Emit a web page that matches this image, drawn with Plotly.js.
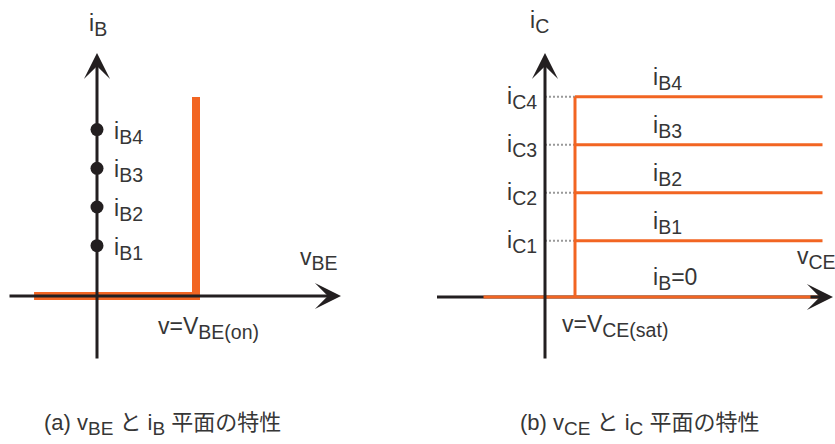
<!DOCTYPE html>
<html>
<head>
<meta charset="utf-8">
<script src="https://cdn.plot.ly/plotly-3.0.1.min.js"></script>
<style>
  html, body { margin: 0; padding: 0; background: #ffffff; }
  #chart { width: 835px; height: 444px; }
</style>
</head>
<body>
<div id="chart"></div>
<script>
// ---- (a) base current against base-emitter voltage ----
const VBE_ON = 0.7;                          // turn-on voltage V_BE(on)
const VBE_START = -0.445;                    // left end of the characteristic
const IB_TOP = 5.14;                         // top of the vertical rise
const IB_LEVELS = [1.3, 2.3, 3.3, 4.3];      // base-current steps i_B1..i_B4
const IB_SUBS = ['B1', 'B2', 'B3', 'B4'];

// ---- (b) collector current against collector-emitter voltage ----
const VCE_SAT = 0.2;                         // saturation voltage V_CE(sat)
const VCE_START = -0.41;
const VCE_END = 1.85;
const IC_LEVELS = [1.17, 2.17, 3.17, 4.17];  // collector currents i_C1..i_C4
const IC_SUBS = ['C1', 'C2', 'C3', 'C4'];

// ---- styling ----
const ORANGE = '#f26522';
const INK = '#231f20';
const TEXT = '#363636';
const FONT = "'Liberation Sans', 'Noto Sans CJK JP', sans-serif";
const W = 835, H = 444;
const LABEL_SIZE = 23, LABEL_SUB = 19.5;
const CAP_SIZE = 22, CAP_SUB = 19;

// subscript with its own size (larger than the default 70%)
const sub = (t, size) => '<sub><span style="font-size:' + size + 'px">' + t + '</span></sub>';
const lab = (main, s) => main + sub(s, LABEL_SUB);

// pixel frame of each panel (origin position and pixels per unit)
const PA = { left: 0, right: 345, ox: 97, oy: 296, sx: 141.43, sy: 38.7 };
const PB = { left: 417.5, right: 835, ox: 545, oy: 297, sx: 150, sy: 48 };

function axesFor(p) {
  return {
    xdom: [p.left / W, p.right / W],
    xr: [-(p.ox - p.left) / p.sx, (p.right - p.ox) / p.sx],
    yr: [-(H - p.oy) / p.sy, p.oy / p.sy]
  };
}
const A = axesFor(PA), B = axesFor(PB);

// axis extents (arrow tails and tips) in each panel's units
const AX_A = { xFrom: (8 - PA.ox) / PA.sx, xTip: (341 - PA.ox) / PA.sx,
               yFrom: (PA.oy - 360) / PA.sy, yTip: (PA.oy - 53) / PA.sy };
const AX_B = { xFrom: (437 - PB.ox) / PB.sx, xTip: (833 - PB.ox) / PB.sx,
               yFrom: (PB.oy - 360) / PB.sy, yTip: (PB.oy - 53) / PB.sy };

const traces = [];

// (a) thick characteristic: flat, then vertical at V_BE(on)
traces.push({
  x: [VBE_START, VBE_ON, VBE_ON], y: [0, 0, IB_TOP],
  xaxis: 'x', yaxis: 'y', mode: 'lines',
  line: { color: ORANGE, width: 8 }, hoverinfo: 'skip'
});
// (a) base-current dots on the i_B axis
traces.push({
  x: IB_LEVELS.map(() => 0), y: IB_LEVELS,
  xaxis: 'x', yaxis: 'y', mode: 'markers',
  marker: { color: INK, size: 13 }, hoverinfo: 'skip'
});

// (b) dotted guides from the i_C axis to the saturation edge
const gx = [], gy = [];
IC_LEVELS.forEach(v => { gx.push(0, VCE_SAT, null); gy.push(v, v, null); });
traces.push({
  x: gx, y: gy, xaxis: 'x2', yaxis: 'y2', mode: 'lines',
  line: { color: '#999999', width: 2, dash: '2px,2px' }, hoverinfo: 'skip'
});
// (b) horizontal axis line (the orange i_B=0 line sits on top of it)
traces.push({
  x: [AX_B.xFrom, AX_B.xTip - 0.07], y: [0, 0], xaxis: 'x2', yaxis: 'y2', mode: 'lines',
  line: { color: INK, width: 3 }, hoverinfo: 'skip'
});
// (b) output characteristics
const ox = [VCE_START, VCE_END, null, VCE_SAT, VCE_SAT, null];
const oy = [0, 0, null, 0, IC_LEVELS[IC_LEVELS.length - 1], null];
IC_LEVELS.forEach(v => { ox.push(VCE_SAT, VCE_END, null); oy.push(v, v, null); });
traces.push({
  x: ox, y: oy, xaxis: 'x2', yaxis: 'y2', mode: 'lines',
  line: { color: ORANGE, width: 3 }, hoverinfo: 'skip'
});

function arrow(xref, yref, x, y, ax, ay) {
  return {
    xref: xref, yref: yref, axref: xref, ayref: yref,
    x: x, y: y, ax: ax, ay: ay, text: '', showarrow: true,
    arrowhead: 3, arrowsize: 1.45, arrowwidth: 3, arrowcolor: INK, standoff: 0,
    font: { size: 1 }
  };
}
function label(text, xref, yref, x, y, xanchor, yanchor, size, extra) {
  return Object.assign({
    text: text, xref: xref, yref: yref, x: x, y: y,
    xanchor: xanchor, yanchor: yanchor, showarrow: false,
    font: { family: FONT, size: size, color: TEXT }
  }, extra || {});
}
const px = v => v / W;
const py = v => 1 - v / H;

const annotations = [
  // (a) axes
  arrow('x', 'y', AX_A.xTip, 0, AX_A.xFrom, 0),
  arrow('x', 'y', 0, AX_A.yTip, 0, AX_A.yFrom),
  // (b) axes
  arrow('x2', 'y2', 0, AX_B.yTip, 0, AX_B.yFrom),
  arrow('x2', 'y2', AX_B.xTip, 0, AX_B.xTip - 0.16, 0),

  // (a) text
  label(lab('i', 'B'), 'paper', 'paper', px(87), py(25), 'left', 'middle', LABEL_SIZE),
  label(lab('v', 'BE'), 'paper', 'paper', px(298), py(259), 'left', 'middle', LABEL_SIZE),
  label(lab('v=V', 'BE(on)'), 'paper', 'paper', px(156), py(328), 'left', 'middle', LABEL_SIZE),

  // (b) text
  label(lab('i', 'C'), 'paper', 'paper', px(528), py(22), 'left', 'middle', LABEL_SIZE),
  label(lab('v', 'CE'), 'paper', 'paper', px(795), py(258), 'left', 'middle', LABEL_SIZE),
  label(lab('v=V', 'CE(sat)'), 'paper', 'paper', px(560), py(326), 'left', 'middle', LABEL_SIZE),
  label(lab('i', 'B') + '=0', 'x2', 'y2', (651 - PB.ox) / PB.sx, 0, 'left', 'bottom', LABEL_SIZE, { yshift: 1 }),

  // captions
  label('(a) v' + sub('BE', CAP_SUB) + ' と i' + sub('B', CAP_SUB) + ' 平面の特性',
        'paper', 'paper', px(42), py(424), 'left', 'middle', CAP_SIZE),
  label('(b) v' + sub('CE', CAP_SUB) + ' と i' + sub('C', CAP_SUB) + ' 平面の特性',
        'paper', 'paper', px(518), py(424), 'left', 'middle', CAP_SIZE)
];

IB_LEVELS.forEach((v, i) => {
  annotations.push(label(lab('i', IB_SUBS[i]), 'x', 'y', (112 - PA.ox) / PA.sx, v, 'left', 'middle', LABEL_SIZE, { yshift: -3 }));
});
IC_LEVELS.forEach((v, i) => {
  annotations.push(label(lab('i', IC_SUBS[i]), 'x2', 'y2', (539 - PB.ox) / PB.sx, v, 'right', 'middle', LABEL_SIZE, { yshift: -1 }));
  annotations.push(label(lab('i', IB_SUBS[i]), 'x2', 'y2', (651 - PB.ox) / PB.sx, v, 'left', 'bottom', LABEL_SIZE, { yshift: 1 }));
});

const hidden = { visible: false, fixedrange: true };
const layout = {
  width: W, height: H,
  margin: { l: 0, r: 0, t: 0, b: 0, pad: 0 },
  paper_bgcolor: '#ffffff', plot_bgcolor: 'rgba(0,0,0,0)',
  showlegend: false,
  xaxis: Object.assign({ domain: A.xdom, range: A.xr, anchor: 'y' }, hidden),
  yaxis: Object.assign({ domain: [0, 1], range: A.yr, anchor: 'x' }, hidden),
  xaxis2: Object.assign({ domain: B.xdom, range: B.xr, anchor: 'y2' }, hidden),
  yaxis2: Object.assign({ domain: [0, 1], range: B.yr, anchor: 'x2' }, hidden),
  annotations: annotations
};

Plotly.newPlot('chart', traces, layout, { staticPlot: true, displayModeBar: false });
</script>
</body>
</html>
